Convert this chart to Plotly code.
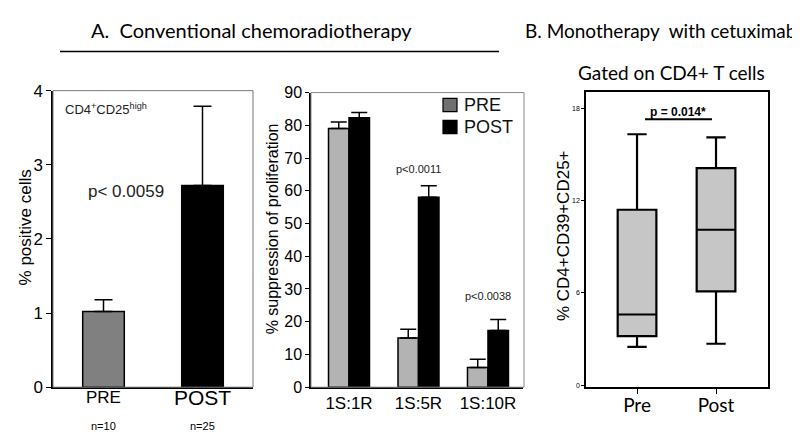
import plotly.graph_objects as go

# ---- data ----
left_cats = ["PRE", "POST"]
left_n = ["n=10", "n=25"]
left_vals = [1.02, 2.72]
left_err = [0.16, 1.07]

mid_cats = ["1S:1R", "1S:5R", "1S:10R"]
mid_series = ["PRE", "POST"]
mid_pre = [79.0, 15.0, 6.0]
mid_pre_err = [2.0, 2.7, 2.5]
mid_post = [82.3, 58.0, 17.3]
mid_post_err = [1.6, 3.5, 3.4]
mid_pvals = ["p<0.0011", "p<0.0038"]
mid_pval_cats = ["1S:5R", "1S:10R"]
mid_pval_y = [66.5, 28.0]

box_cats = ["Pre", "Post"]
box_low = [2.5, 2.7]
box_q1 = [3.2, 6.1]
box_med = [4.6, 10.1]
box_q3 = [11.4, 14.1]
box_high = [16.3, 16.1]

left_ticks = [0, 1, 2, 3, 4]
mid_ticks = list(range(0, 100, 10))
right_ticks = [0, 6, 12, 18]

W, H = 800, 437
def px(x): return x / W
def py(y): return (H - y) / H

ARIAL = "Liberation Sans, Arial, sans-serif"
HUM = "Lato, Open Sans, sans-serif"

fig = go.Figure()

# left panel bars
fig.add_trace(go.Bar(
    x=left_cats, y=left_vals, xaxis="x", yaxis="y",
    marker=dict(color=["#808080", "#000000"], line=dict(color="black", width=1.5)),
    width=0.42, offset=-0.21,
    error_y=dict(type="data", symmetric=False, array=left_err, arrayminus=[0, 0],
                 color="black", thickness=1.5, width=9),
    showlegend=False))

# middle panel bars
fig.add_trace(go.Bar(
    x=mid_cats, y=mid_pre, xaxis="x2", yaxis="y2", name=mid_series[0],
    marker=dict(color="#b3b3b3", line=dict(color="black", width=1.5)),
    width=0.295, offset=-0.295,
    error_y=dict(type="data", symmetric=False, array=mid_pre_err, arrayminus=[0, 0, 0],
                 color="black", thickness=1.5, width=8),
    showlegend=False))
fig.add_trace(go.Bar(
    x=mid_cats, y=mid_post, xaxis="x2", yaxis="y2", name=mid_series[1],
    marker=dict(color="#000000", line=dict(color="black", width=1.5)),
    width=0.295, offset=0,
    error_y=dict(type="data", symmetric=False, array=mid_post_err, arrayminus=[0, 0, 0],
                 color="black", thickness=1.5, width=8),
    showlegend=False))

# right panel box plot
fig.add_trace(go.Box(
    x=box_cats, q1=box_q1, median=box_med, q3=box_q3,
    lowerfence=box_low, upperfence=box_high,
    xaxis="x3", yaxis="y3", width=0.49, whiskerwidth=0.5,
    fillcolor="#c6c6c6", line=dict(color="black", width=2.2),
    showlegend=False, hoverinfo="skip"))

axis_common = dict(showline=True, linecolor="black", linewidth=1.5, ticks="outside",
                   tickcolor="black", showgrid=False, zeroline=False)

fig.update_layout(
    width=W, height=H, margin=dict(l=0, r=0, t=0, b=0),
    paper_bgcolor="white", plot_bgcolor="white", barmode="overlay",
    font=dict(family=ARIAL, color="black"), showlegend=False,
    xaxis=dict(domain=[px(45), px(245)], range=[-0.51, 1.51], anchor="y",
               showticklabels=False, ticks="", showline=True, linecolor="black",
               linewidth=1.5, mirror=False, showgrid=False, zeroline=False),
    yaxis=dict(domain=[py(387), py(77)], range=[0, 4], anchor="x",
               tickvals=left_ticks, tickfont=dict(size=17, family=ARIAL), ticklen=5, **axis_common),
    xaxis2=dict(domain=[px(303), px(515)], range=[-0.547, 2.504], anchor="y2",
                tickfont=dict(size=17, family=ARIAL), ticks="", showline=True, linecolor="black",
                linewidth=1.5, showgrid=False, zeroline=False),
    yaxis2=dict(domain=[py(387), py(79)], range=[0, 90], anchor="x2",
                tickvals=mid_ticks, tickfont=dict(size=16, family=ARIAL), ticklen=4, **axis_common),
    xaxis3=dict(domain=[px(578), px(760)], range=[-0.646, 1.658], anchor="y3",
                tickfont=dict(size=19, family=HUM), ticklen=5, ticklabelstandoff=-5,
                mirror=True, **axis_common),
    yaxis3=dict(domain=[py(387), py(78)], range=[-0.12, 19.07], anchor="x3",
                tickvals=right_ticks, tickfont=dict(size=7, family=ARIAL), ticklen=3,
                mirror=True, **axis_common),
)

# grey frames around the left and middle panels
fig.add_shape(type="rect", xref="paper", yref="paper", x0=px(45), x1=px(245),
              y0=py(387), y1=py(77), line=dict(color="#777777", width=1))
fig.add_shape(type="rect", xref="paper", yref="paper", x0=px(303), x1=px(516),
              y0=py(387), y1=py(79), line=dict(color="#888888", width=1))

# manual legend for the middle panel
legend_cols = ["#707070", "#000000"]
legend_y = [92, 115]
for name, col, ly in zip(mid_series, legend_cols, legend_y):
    fig.add_shape(type="rect", xref="paper", yref="paper", x0=px(435), x1=px(449),
                  y0=py(ly + 7), y1=py(ly - 7), fillcolor=col, line=dict(color="black", width=1.2))

ann = []
for name, ly in zip(mid_series, legend_y):
    ann.append(dict(text=name, x=px(454), y=py(ly), xref="paper", yref="paper", showarrow=False,
                    font=dict(size=18, family=ARIAL, color="#111"), xanchor="left", yanchor="middle"))
# headings
ann.append(dict(text="A.  Conventional chemoradiotherapy", x=px(243), y=py(14), xref="paper", yref="paper",
                showarrow=False, font=dict(size=20, family=HUM), xanchor="center", yanchor="middle"))
ann.append(dict(text="B. Monotherapy  with cetuximab", x=px(515), y=py(14), xref="paper", yref="paper",
                showarrow=False, font=dict(size=19, family=HUM), xanchor="left", yanchor="middle"))
ann.append(dict(text="Gated on CD4+ T cells", x=px(663), y=py(58), xref="paper", yref="paper",
                showarrow=False, font=dict(size=19, family=HUM), xanchor="center", yanchor="middle"))
# left panel
ann.append(dict(text="CD4<sup>+</sup>CD25<sup>high</sup>", x=px(55), y=py(96), xref="paper", yref="paper",
                showarrow=False, font=dict(size=13, family=ARIAL, color="#222222"), xanchor="left", yanchor="middle"))
ann.append(dict(text="p< 0.0059", x=px(78), y=py(182), xref="paper", yref="paper",
                showarrow=False, font=dict(size=17, family=ARIAL, color="#222222"), xanchor="left", yanchor="middle"))
ann.append(dict(text="% positive cells", x=px(17), y=py(220), xref="paper", yref="paper", textangle=-90,
                showarrow=False, font=dict(size=17, family=ARIAL), xanchor="center", yanchor="middle"))
sizes = [17, 21]
for c, n, s in zip(left_cats, left_n, sizes):
    ann.append(dict(text=c, x=c, xref="x", y=py(398), yref="paper", showarrow=False,
                    font=dict(size=s, family=ARIAL), xanchor="center", yanchor="middle"))
    ann.append(dict(text=n, x=c, xref="x", y=py(428), yref="paper", showarrow=False,
                    font=dict(size=11, family=ARIAL), xanchor="center", yanchor="middle"))
# middle panel
for t, c, yv in zip(mid_pvals, mid_pval_cats, mid_pval_y):
    ann.append(dict(text=t, x=c, xref="x2", y=yv, yref="y2", showarrow=False,
                    font=dict(size=11, family=ARIAL, color="#222222"), xanchor="center", yanchor="middle"))
ann.append(dict(text="% suppression of proliferation", x=px(264), y=py(222), xref="paper", yref="paper",
                textangle=-90, showarrow=False, font=dict(size=16, family=ARIAL),
                xanchor="center", yanchor="middle"))
# right panel
ann.append(dict(text="% CD4+CD39+CD25+", x=px(555), y=py(229), xref="paper", yref="paper",
                textangle=-90, showarrow=False, font=dict(size=17, family=ARIAL),
                xanchor="center", yanchor="middle"))
ann.append(dict(text="<b>p = 0.014*</b>", x=px(670), y=py(99), xref="paper", yref="paper",
                showarrow=False, font=dict(size=12, family="Liberation Sans Narrow, Arial Narrow, sans-serif"),
                xanchor="center", yanchor="middle"))
fig.update_layout(annotations=ann)

# heading rule and p-value underline
fig.add_shape(type="line", xref="paper", yref="paper", x0=px(52), x1=px(491), y0=py(36), y1=py(36),
              line=dict(color="black", width=1.5))
fig.add_shape(type="line", xref="paper", yref="paper", x0=px(637), x1=px(704), y0=py(107), y1=py(107),
              line=dict(color="black", width=2))

fig.write_html("out.html")
